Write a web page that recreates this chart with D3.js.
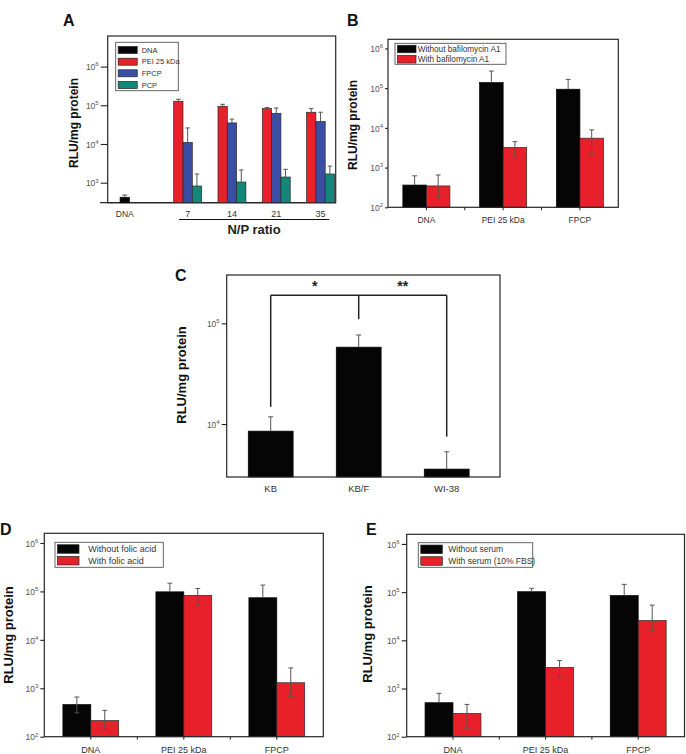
<!DOCTYPE html>
<html><head><meta charset="utf-8">
<script src="https://cdn.jsdelivr.net/npm/d3@7"></script>
<style>body{margin:0;background:#fff} svg{display:block;font-family:Arial,"Liberation Sans",sans-serif}</style>
</head><body><svg id="c" width="686" height="754"></svg>
<script>
// ---------- Panel A ----------
const aNpRatios = ["7", "14", "21", "35"];
const aSeries = ["DNA", "PEI 25 kDa", "FPCP", "PCP"];
const aDnaValue = [420];
const aDnaErr = [480];
const aPei = [127000, 94000, 82000, 66000];
const aPeiErr = [143000, 106000, 87000, 82000];
const aFpcp = [11000, 35000, 62000, 38000];
const aFpcpErr = [26000, 44000, 85000, 66000];
const aPcp = [820, 1040, 1400, 1680];
const aPcpErr = [1680, 2130, 2220, 2690];
const aTickExps = [3, 4, 5, 6];

// ---------- Panel B ----------
const bGroups = ["DNA", "PEI 25 kDa", "FPCP"];
const bSeries = ["Without bafilomycin A1", "With bafilomycin A1"];
const bWithout = [363, 138000, 94000];
const bWithoutErrHi = [620, 270000, 166000];
const bWithoutErrLo = [null, null, null];
const bWith = [345, 3200, 5500];
const bWithErrHi = [650, 4500, 8900];
const bWithErrLo = [190, 1820, 2090];
const bTickExps = [2, 3, 4, 5, 6];

// ---------- Panel C ----------
const cCells = ["KB", "KB/F", "WI-38"];
const cValues = [8500, 58000, 3570];
const cErrHi = [11800, 76600, 5300];
const cSignif = ["*", "**"];
const cBracketTop = 190000;
const cBracketEnds = [14800, 110000, 7500];
const cTickExps = [4, 5];

// ---------- Panel D ----------
const dGroups = ["DNA", "PEI 25 kDa", "FPCP"];
const dSeries = ["Without folic acid", "With folic acid"];
const dWithout = [461, 98000, 74000];
const dWithoutErrHi = [660, 148000, 135000];
const dWithoutErrLo = [310, null, null];
const dWith = [215, 83000, 1300];
const dWithErrHi = [350, 115000, 2630];
const dWithErrLo = [140, 54000, 680];
const dTickExps = [2, 3, 4, 5, 6];

// ---------- Panel E ----------
const eGroups = ["DNA", "PEI 25 kDa", "FPCP"];
const eSeries = ["Without serum", "With serum (10% FBS)"];
const eWithout = [507, 102000, 85000];
const eWithoutErrHi = [795, 120000, 145000];
const eWithoutErrLo = [null, null, null];
const eWith = [305, 2750, 25700];
const eWithErrHi = [468, 3800, 53700];
const eWithErrLo = [150, 1740, 16200];
const eTickExps = [2, 3, 4, 5, 6];

const RED = "#e8202a", BLUE = "#3a4ea6", TEAL = "#12877a", BLACK = "#050505";
const FONT = 'Arial,"Liberation Sans",sans-serif';
const svg = d3.select("#c");

function frame(x0, y0, x1, y1) {
  svg.append("rect").attr("x", x0).attr("y", y0).attr("width", x1 - x0).attr("height", y1 - y0)
    .attr("fill", "none").attr("stroke", "#262626").attr("stroke-width", 1.2);
}
function panelLetter(t, x, y) {
  svg.append("text").attr("x", x).attr("y", y).attr("font-family", FONT).attr("font-weight", "bold")
    .attr("font-size", 16).attr("fill", "#111").text(t);
}
function yTitle(cx, cy, fs) {
  svg.append("text").attr("transform", `translate(${cx},${cy}) rotate(-90)`)
    .attr("text-anchor", "middle").attr("dominant-baseline", "central")
    .attr("font-family", FONT).attr("font-weight", "bold").attr("font-size", fs).attr("fill", "#111")
    .text("RLU/mg protein");
}
function yAxis(y, x, exps, tickLen) {
  const g = svg.append("g").attr("transform", `translate(${x},0)`);
  g.call(d3.axisLeft(y).tickValues(exps.map(e => 10 ** e)).tickSize(tickLen).tickFormat(""));
  g.select(".domain").remove();
  g.selectAll(".tick line").attr("stroke", "#222").attr("stroke-width", 1.1);
  g.selectAll(".tick text").remove();
  g.selectAll(".tick").each(function (d) {
    const t = d3.select(this).append("text").attr("x", -tickLen - 2).attr("y", 3.2)
      .attr("text-anchor", "end").attr("font-family", FONT).attr("font-size", 8.5).attr("fill", "#555");
    t.append("tspan").text("10");
    t.append("tspan").attr("font-size", 6).attr("dy", -3.8).text(Math.round(Math.log10(d)));
  });
}
function xLabel(t, x, y, fs) {
  svg.append("text").attr("x", x).attr("y", y).attr("text-anchor", "middle").attr("font-family", FONT)
    .attr("font-size", fs || 9).attr("fill", "#333").text(t);
}
function bar(x, w, yTop, yBot, fill) {
  svg.append("rect").attr("x", x).attr("y", yTop).attr("width", w).attr("height", yBot - yTop)
    .attr("fill", fill).attr("stroke", fill === BLACK ? BLACK : "#2a2a2a").attr("stroke-width", 0.7);
}
function errBar(cx, yHi, yLo, cap) {
  svg.append("line").attr("x1", cx).attr("x2", cx).attr("y1", yHi).attr("y2", yLo)
    .attr("stroke", "#555").attr("stroke-width", 1);
  svg.append("line").attr("x1", cx - cap).attr("x2", cx + cap).attr("y1", yHi).attr("y2", yHi)
    .attr("stroke", "#555").attr("stroke-width", 1);
}
function errBarLo(cx, yLo, cap) {
  svg.append("line").attr("x1", cx - cap).attr("x2", cx + cap).attr("y1", yLo).attr("y2", yLo)
    .attr("stroke", "#555").attr("stroke-width", 1);
}
function legend(x0, y0, x1, y1, swW, swH, textX, rowYs, names, colors, fs) {
  svg.append("rect").attr("x", x0).attr("y", y0).attr("width", x1 - x0).attr("height", y1 - y0)
    .attr("fill", "#fff").attr("stroke", "#555").attr("stroke-width", 0.9);
  names.forEach((n, i) => {
    svg.append("rect").attr("x", x0 + 2.5).attr("y", rowYs[i] - swH / 2).attr("width", swW).attr("height", swH)
      .attr("fill", colors[i]).attr("stroke", "#222").attr("stroke-width", 0.7);
    svg.append("text").attr("x", textX).attr("y", rowYs[i]).attr("dominant-baseline", "central")
      .attr("font-family", FONT).attr("font-size", fs).attr("fill", "#333").text(n);
  });
}

// ===== Panel A =====
{
  const x0 = 107.7, x1 = 335.7, yTop = 36, yBot = 202.7;
  const y = d3.scaleLog().domain([10 ** 2.483, 10 ** 6.79]).range([yBot, yTop]);
  const xg = d3.scaleBand().domain(aNpRatios).range([165.5, 342.7]).paddingInner(0.37).paddingOuter(0.185);
  const xs = d3.scaleBand().domain(aSeries.slice(1)).range([0, xg.bandwidth()]);
  const bw = xs.bandwidth();
  frame(x0, yTop, x1, yBot);
  svg.append("line").attr("x1", 100).attr("x2", x1).attr("y1", yBot).attr("y2", yBot)
    .attr("stroke", "#262626").attr("stroke-width", 1.2);
  yAxis(y, x0, aTickExps, 7);
  const dnaC = xg("7") + xg.bandwidth() / 2 - 1.42 * xg.step();
  bar(dnaC - bw / 2, bw, y(aDnaValue[0]), yBot, BLACK);
  errBar(dnaC, y(aDnaErr[0]), y(aDnaValue[0]), 2.5);
  const sets = [[aPei, aPeiErr, RED], [aFpcp, aFpcpErr, BLUE], [aPcp, aPcpErr, TEAL]];
  aNpRatios.forEach((r, i) => {
    sets.forEach(([vals, errs, col], k) => {
      const bx = xg(r) + xs(aSeries[k + 1]);
      bar(bx, bw, y(vals[i]), yBot, col);
      errBar(bx + bw / 2, y(errs[i]), y(vals[i]), 2.2);
    });
  });
  xLabel("DNA", dnaC, 216.5, 8.5);
  aNpRatios.forEach(r => xLabel(r, xg(r) + xg.bandwidth() / 2, 216.5, 9));
  svg.append("line").attr("x1", 179).attr("x2", 329.3).attr("y1", 219.5).attr("y2", 219.5)
    .attr("stroke", "#111").attr("stroke-width", 1.2);
  svg.append("text").attr("x", 254).attr("y", 234).attr("text-anchor", "middle").attr("font-family", FONT)
    .attr("font-weight", "bold").attr("font-size", 13).attr("fill", "#222").text("N/P ratio");
  legend(115.7, 42.3, 178.3, 90.7, 19, 7, 141.7, [50, 61.7, 73.3, 85], aSeries, [BLACK, RED, BLUE, TEAL], 7.5);
  panelLetter("A", 63, 26);
  yTitle(74, 123, 12);
}

// ===== grouped panels B, D, E =====
function grouped(cfg) {
  const { x0, x1, yTop, yBot, y, groups, series, vals, hi, lo, pad, tickLen, exps, labelY, leg } = cfg;
  const xg = d3.scaleBand().domain(groups).range([x0, x1]).paddingInner(pad).paddingOuter(pad / 2);
  const xs = d3.scaleBand().domain(series).range([0, xg.bandwidth()]);
  const bw = xs.bandwidth();
  const cols = [BLACK, RED];
  groups.forEach((g, i) => {
    series.forEach((s, k) => {
      const bx = xg(g) + xs(s);
      bar(bx, bw, y(vals[k][i]), yBot, cols[k]);
    });
  });
  groups.forEach((g, i) => {
    series.forEach((s, k) => {
      const cx = xg(g) + xs(s) + bw / 2;
      const l = lo[k][i];
      errBar(cx, y(hi[k][i]), l == null ? y(vals[k][i]) : y(l), 2.4);
      if (l != null) errBarLo(cx, y(l), 2.4);
    });
  });
  frame(x0, yTop, x1, yBot);
  yAxis(y, x0, exps, tickLen);
  const ticks = [];
  groups.forEach((g, i) => {
    ticks.push(xg(g) + xg.bandwidth() / 2);
    if (i > 0) ticks.push(xg(g) - (xg.step() - xg.bandwidth()) / 2);
  });
  ticks.forEach(t => svg.append("line").attr("x1", t).attr("x2", t).attr("y1", yBot).attr("y2", yBot + 3)
    .attr("stroke", "#222").attr("stroke-width", 1));
  groups.forEach(g => xLabel(g, xg(g) + xg.bandwidth() / 2, labelY, cfg.labelFs));
  legend(leg.x0, leg.y0, leg.x1, leg.y1, leg.swW, leg.swH, leg.tx, leg.rows, series, cols, leg.fs);
}

grouped({
  x0: 388, x1: 618.3, yTop: 39.3, yBot: 207.3,
  y: d3.scaleLog().domain([1e2, 10 ** 6.23]).range([207.3, 39.3]),
  groups: bGroups, series: bSeries, vals: [bWithout, bWith], hi: [bWithoutErrHi, bWithErrHi],
  lo: [bWithoutErrLo, bWithErrLo], pad: 0.387, tickLen: 3, exps: bTickExps, labelY: 223, labelFs: 8.5,
  leg: { x0: 395, y0: 43.3, x1: 506, y1: 64.3, swW: 18.5, swH: 7.5, tx: 417.7, rows: [49, 59.3], fs: 8.2 }
});
panelLetter("B", 347, 26);
yTitle(353, 125, 12);

grouped({
  x0: 44.3, x1: 323.3, yTop: 533.3, yBot: 736.7,
  y: d3.scaleLog().domain([1e2, 10 ** 6.2]).range([736.7, 533.3]),
  groups: dGroups, series: dSeries, vals: [dWithout, dWith], hi: [dWithoutErrHi, dWithErrHi],
  lo: [dWithoutErrLo, dWithErrLo], pad: 0.4, tickLen: 4, exps: dTickExps, labelY: 753, labelFs: 9,
  leg: { x0: 55, y0: 542.3, x1: 163.3, y1: 567.3, swW: 21.5, swH: 8.5, tx: 88.3, rows: [549, 560.7], fs: 9 }
});
panelLetter("D", 0, 535);
yTitle(8, 635, 13);

grouped({
  x0: 406.7, x1: 684.5, yTop: 534.3, yBot: 736.7,
  y: d3.scaleLog().domain([1e2, 10 ** 6.2]).range([736.7, 534.3]),
  groups: eGroups, series: eSeries, vals: [eWithout, eWith], hi: [eWithoutErrHi, eWithErrHi],
  lo: [eWithoutErrLo, eWithErrLo], pad: 0.396, tickLen: 5, exps: eTickExps, labelY: 753, labelFs: 9,
  leg: { x0: 418.3, y0: 542.7, x1: 532.7, y1: 567.3, swW: 21.5, swH: 8.5, tx: 448.3, rows: [549.3, 561], fs: 8.5 }
});
panelLetter("E", 366, 535);
yTitle(367.5, 634, 13);

// ===== Panel C =====
{
  const x0 = 226.7, x1 = 500, yTop = 275, yBot = 477;
  const y = d3.scaleLog().domain([10 ** 3.474, 10 ** 5.48]).range([yBot, yTop]);
  const xc = d3.scaleBand().domain(cCells).range([226.7, 490.7]).paddingInner(0.49).paddingOuter(0.245);
  cCells.forEach((c, i) => {
    bar(xc(c), xc.bandwidth(), y(cValues[i]), yBot, BLACK);
    errBar(xc(c) + xc.bandwidth() / 2, y(cErrHi[i]), y(cValues[i]), 2.5);
  });
  frame(x0, yTop, x1, yBot);
  yAxis(y, x0, cTickExps, 5);
  cCells.forEach(c => xLabel(c, xc(c) + xc.bandwidth() / 2, 491.5, 9.5));
  const cx = cCells.map(c => xc(c) + xc.bandwidth() / 2);
  const by = y(cBracketTop);
  const br = svg.append("g").attr("stroke", "#222").attr("stroke-width", 1.5).attr("fill", "none");
  br.append("line").attr("x1", cx[0]).attr("x2", cx[2]).attr("y1", by).attr("y2", by);
  cx.forEach((x, i) => br.append("line").attr("x1", x).attr("x2", x).attr("y1", by).attr("y2", y(cBracketEnds[i])));
  [0, 1].forEach(i => svg.append("text").attr("x", (cx[i] + cx[i + 1]) / 2).attr("y", 291)
    .attr("text-anchor", "middle").attr("font-family", FONT).attr("font-weight", "bold")
    .attr("font-size", 14).attr("fill", "#222").text(cSignif[i]));
  panelLetter("C", 175, 281);
  yTitle(181, 375, 13);
}
</script></body></html>
